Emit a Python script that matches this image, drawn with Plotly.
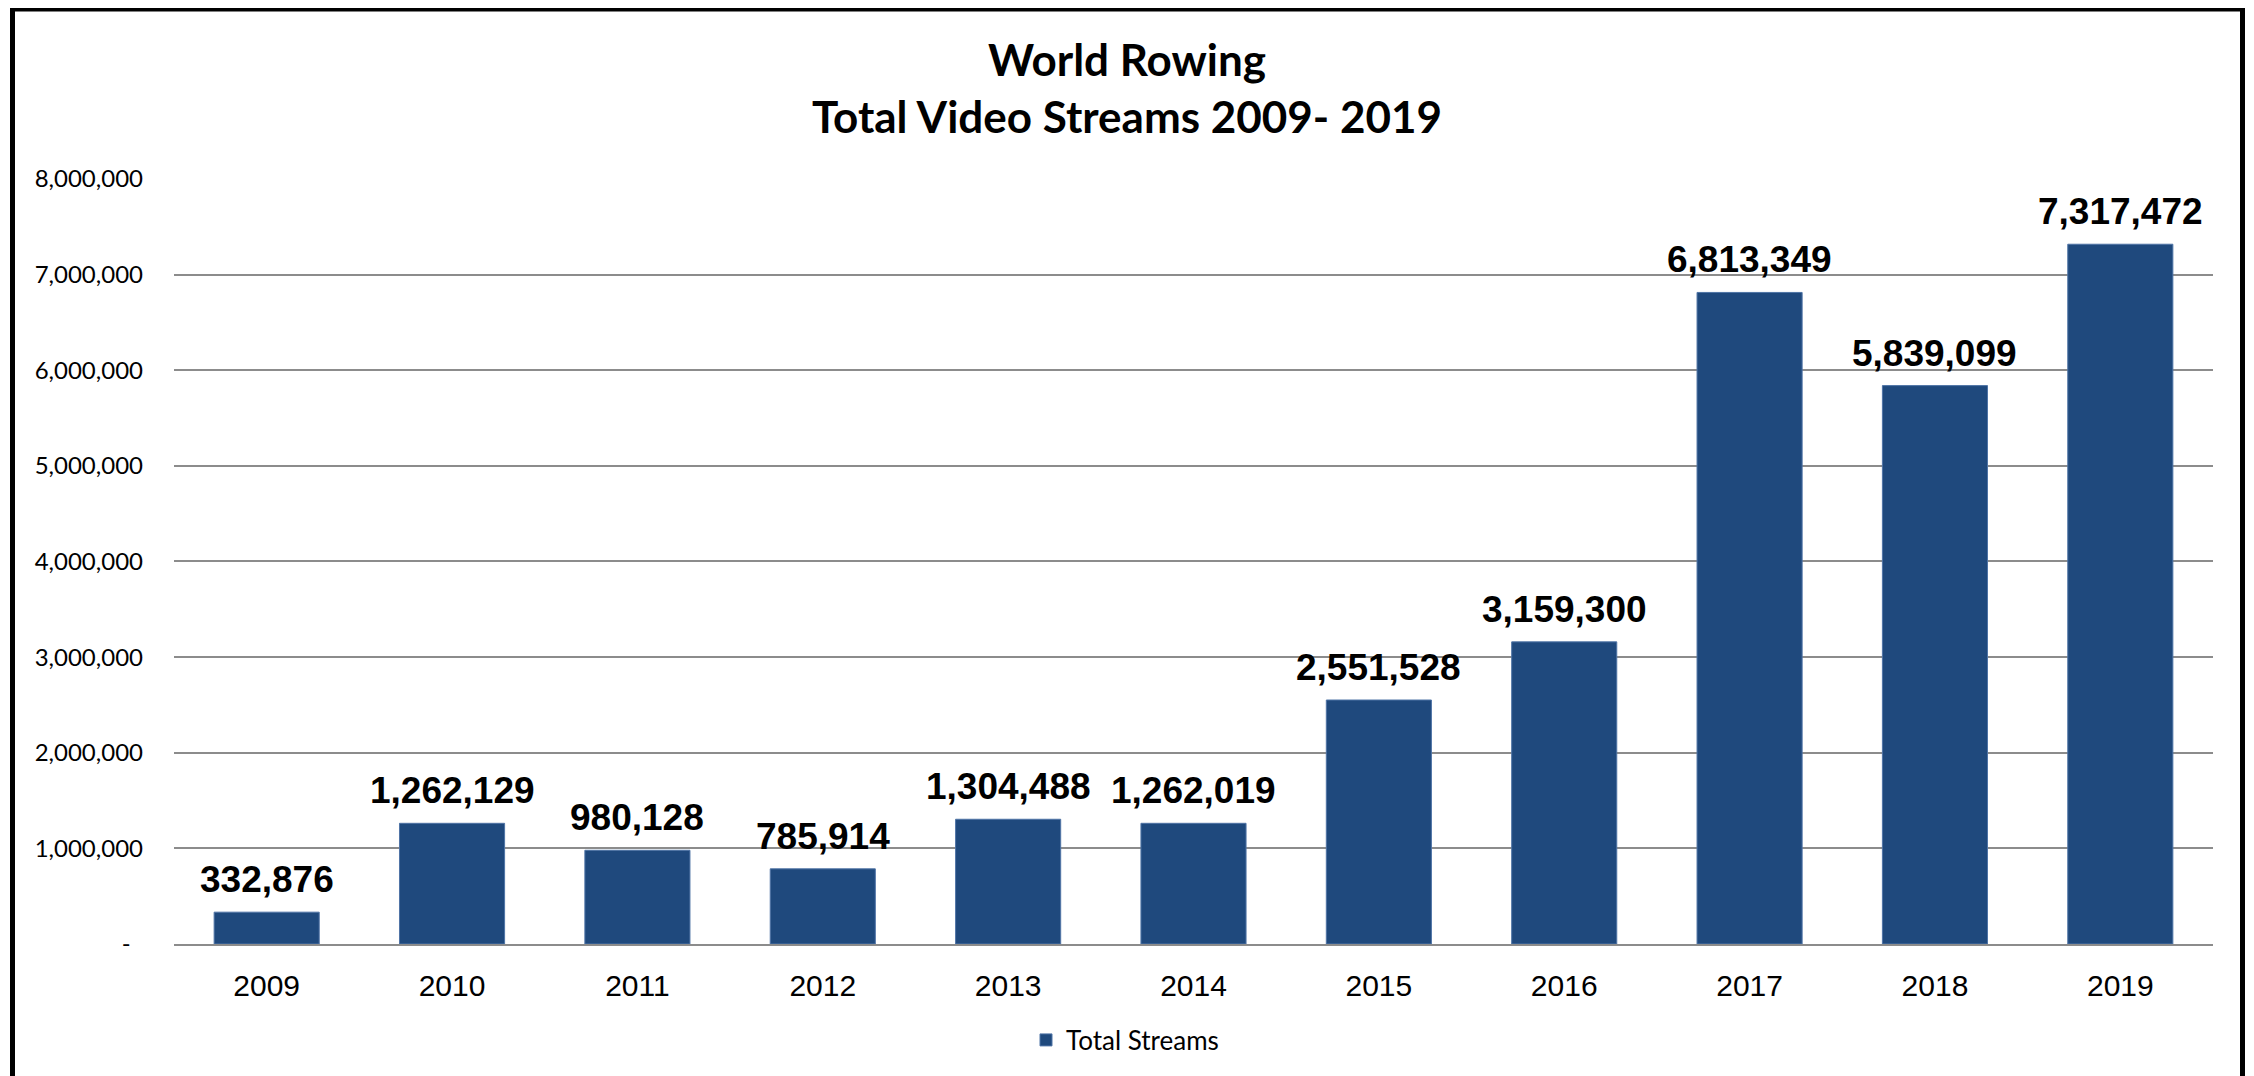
import plotly.graph_objects as go

years = ["2009", "2010", "2011", "2012", "2013", "2014", "2015", "2016", "2017", "2018", "2019"]
streams = [332876, 1262129, 980128, 785914, 1304488, 1262019, 2551528, 3159300, 6813349, 5839099, 7317472]
y_tickvals = [0, 1000000, 2000000, 3000000, 4000000, 5000000, 6000000, 7000000, 8000000]
y_ticktext = ["-&nbsp;&nbsp;", "1,000,000", "2,000,000", "3,000,000", "4,000,000",
              "5,000,000", "6,000,000", "7,000,000", "8,000,000"]

BAR = "#1F497D"

fig = go.Figure()
fig.add_trace(go.Bar(
    x=years, y=streams, name="Total Streams",
    marker=dict(color=BAR, line=dict(color="#4F74A6", width=1)),
    showlegend=True,
))

# data labels placed by category index (category axis) and data value
for i, v in enumerate(streams):
    fig.add_annotation(
        x=i, y=v, text=f"<b>{v:,}</b>", showarrow=False, yanchor="bottom", yshift=10,
        font=dict(family="Liberation Sans", size=37, color="#000000"),
    )

W, H = 2254, 1076
L, R, T, B = 166, 49, 170, 140
pw, ph = W - L - R, H - T - B

fig.add_shape(
    type="rect", xref="paper", yref="paper",
    x0=(4.5 - L) / pw, x1=(2234.5 - L) / pw,
    y0=(H - B - 1100) / ph, y1=(H - B - 1) / ph,
    line=dict(color="#000000", width=5), fillcolor="rgba(0,0,0,0)", layer="above",
)

fig.update_layout(
    width=W, height=H,
    margin=dict(l=L, r=R, t=T, b=B, autoexpand=False),
    paper_bgcolor="white", plot_bgcolor="white",
    bargap=0.433,
    title=dict(
        text="World Rowing<br>Total Video Streams 2009- 2019",
        x=(1127 - 8) / W, xanchor="center", xref="container",
        y=1 - 68 / H, yanchor="middle", yref="container",
        font=dict(family="Lato", size=44, color="#000000", weight="bold"),
    ),
    legend=dict(
        orientation="h", x=(1117 - L) / pw, xanchor="center",
        y=(H - B - 1032) / ph, yanchor="middle",
        font=dict(family="Lato", size=26, color="#000000"),
    ),
    xaxis=dict(
        type="category", range=[-0.5, len(years) - 0.5],
        showgrid=False, showline=True, linecolor="#8c8c8c", linewidth=1.5,
        ticks="", ticklabelstandoff=14,
        tickfont=dict(family="Liberation Sans", size=30, color="#000000"),
    ),
    yaxis=dict(
        range=[0, 8010000], tickvals=y_tickvals, ticktext=y_ticktext,
        showgrid=True, gridcolor="#8c8c8c", gridwidth=1.5, zeroline=False,
        showline=False, ticks="", ticklabelstandoff=30,
        tickfont=dict(family="Lato", size=24, color="#000000"),
    ),
)

fig.write_html("out.html")
